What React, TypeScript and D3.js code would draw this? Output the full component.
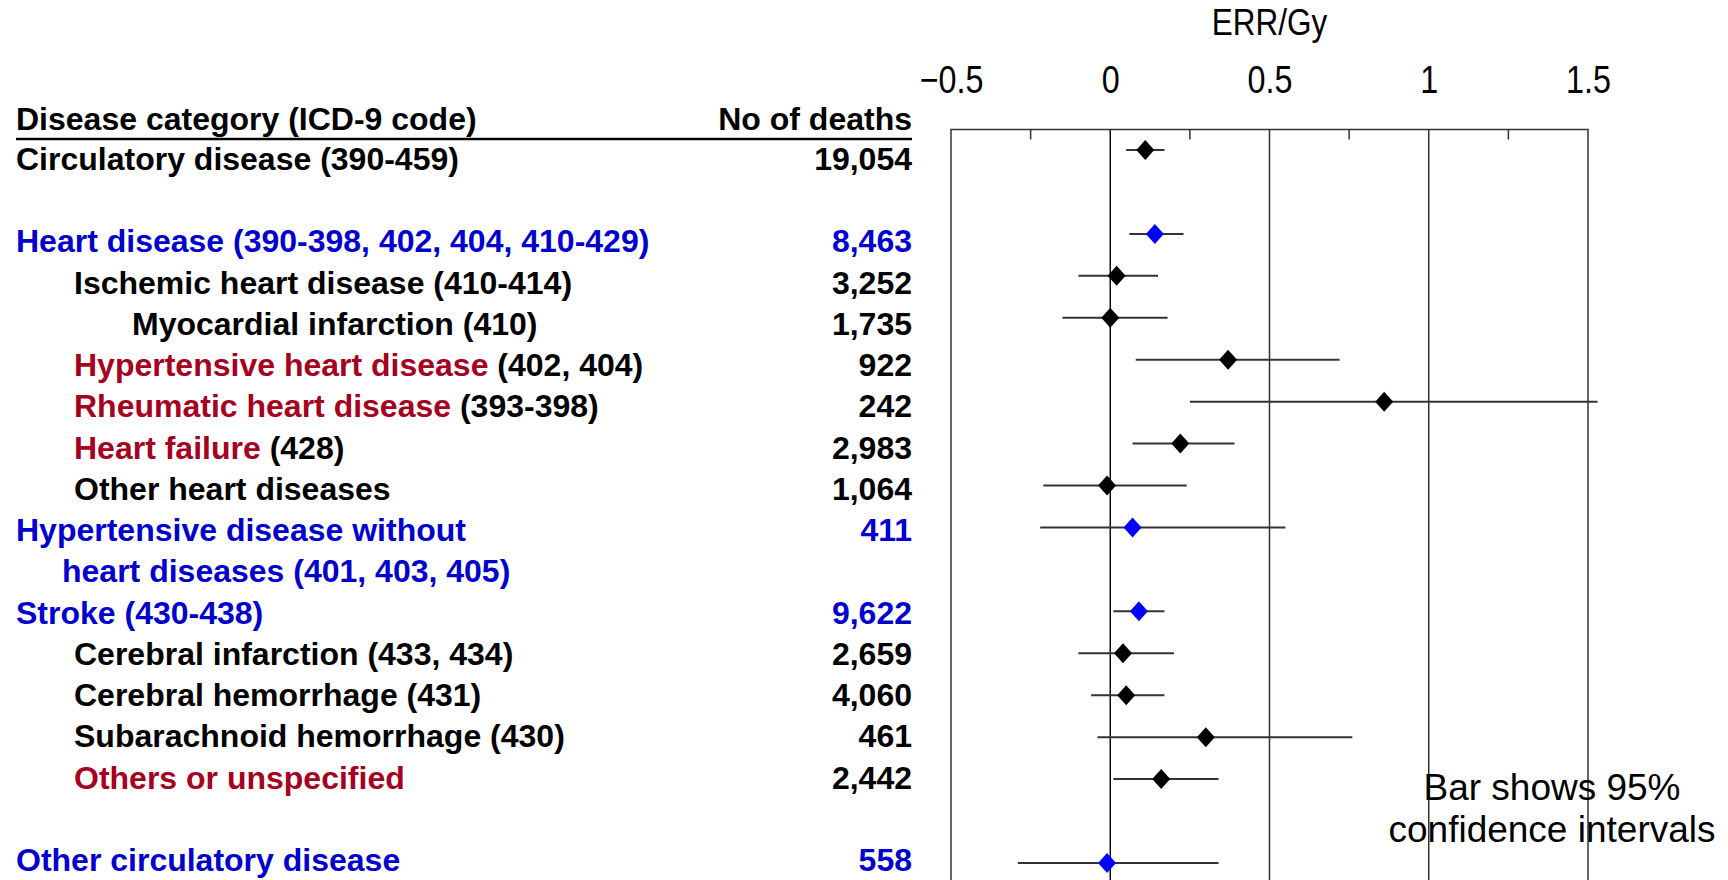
import { useEffect, useRef } from "react";
import * as d3 from "d3";

// rows of the table, top to bottom
const categories = [
  "Circulatory disease",
  "Heart disease",
  "Ischemic heart disease",
  "Myocardial infarction",
  "Hypertensive heart disease",
  "Rheumatic heart disease",
  "Heart failure",
  "Other heart diseases",
  "Hypertensive disease without\nheart diseases",
  "Stroke",
  "Cerebral infarction",
  "Cerebral hemorrhage",
  "Subarachnoid hemorrhage",
  "Others or unspecified",
  "Other circulatory disease",
];
const icdCodes = [
  "(390-459)",
  "(390-398, 402, 404, 410-429)",
  "(410-414)",
  "(410)",
  "(402, 404)",
  "(393-398)",
  "(428)",
  "",
  "(401, 403, 405)",
  "(430-438)",
  "(433, 434)",
  "(431)",
  "(430)",
  "",
  "",
];
// total / group / sub-category
const rowKind = ["total", "group", "sub", "sub", "sub", "sub", "sub", "sub", "group", "group", "sub", "sub", "sub", "sub", "group"];
const depth = [0, 0, 1, 2, 1, 1, 1, 1, 0, 0, 1, 1, 1, 1, 0];
const flagged = [false, false, false, false, true, true, true, false, false, false, false, false, false, true, false];
const deaths = [19054, 8463, 3252, 1735, 922, 242, 2983, 1064, 411, 9622, 2659, 4060, 461, 2442, 558];
const errPerGy = [0.11, 0.14, 0.02, 0.0, 0.37, 0.86, 0.22, -0.01, 0.07, 0.09, 0.04, 0.05, 0.3, 0.16, -0.01];
const ciLow = [0.05, 0.06, -0.1, -0.15, 0.08, 0.25, 0.07, -0.21, -0.22, 0.01, -0.1, -0.06, -0.04, 0.01, -0.29];
const ciHigh = [0.17, 0.23, 0.15, 0.18, 0.72, 1.53, 0.39, 0.24, 0.55, 0.17, 0.2, 0.17, 0.76, 0.34, 0.34];

// row order, blank entries are spacer rows
const rowOrder = [
  "Circulatory disease", "gap1",
  "Heart disease", "Ischemic heart disease", "Myocardial infarction",
  "Hypertensive heart disease", "Rheumatic heart disease", "Heart failure",
  "Other heart diseases", "Hypertensive disease without\nheart diseases", "wrap1",
  "Stroke", "Cerebral infarction", "Cerebral hemorrhage", "Subarachnoid hemorrhage",
  "Others or unspecified", "gap2", "Other circulatory disease",
];
const xTicks = [-0.5, 0, 0.5, 1, 1.5];
const minorTicks = [-0.25, 0.25, 0.75, 1.25];

const W = 1728;
const H = 880;
const BLUE_TEXT = "#0000CC";
const BLUE_MARK = "#0000FF";
const RED_TEXT = "#A50021";
const FONT = "'Liberation Sans', Arial, Helvetica, sans-serif";

const ForestChart = () => {
  const ref = useRef<SVGSVGElement | null>(null);

  useEffect(() => {
    if (!ref.current) return;
    const svg = d3.select(ref.current);
    svg.selectAll("*").remove();

    const x = d3.scaleLinear().domain([-0.5, 1.5]).range([951, 1588]);
    const textY = d3.scalePoint<string>().domain(rowOrder).range([170, 871]);
    const markY = d3.scalePoint<string>().domain(rowOrder).range([150, 863]);
    const step = textY.step();
    const boxTop = 129.5;
    const indent = [16, 74, 132];
    const numRight = 912;

    // ---- table side
    const table = svg.append("g").attr("font-family", FONT).attr("font-weight", "bold").attr("font-size", 32);

    table.append("text").attr("x", indent[0]).attr("y", 130).text("Disease category (ICD-9 code)");
    table.append("text").attr("x", numRight).attr("y", 130).attr("text-anchor", "end").text("No of deaths");
    table.append("line")
      .attr("x1", indent[0]).attr("x2", numRight)
      .attr("y1", 139).attr("y2", 139)
      .attr("stroke", "#000").attr("stroke-width", 2.5);

    categories.forEach((name, i) => {
      const base = textY(name)!;
      const color = rowKind[i] === "group" ? BLUE_TEXT : "#000";
      const lines = name.split("\n");
      lines.forEach((ln, k) => {
        const isLast = k === lines.length - 1;
        const t = table.append("text")
          .attr("x", k === 0 ? indent[depth[i]] : 62)
          .attr("y", base + k * step)
          .attr("fill", color);
        t.append("tspan")
          .attr("fill", flagged[i] ? RED_TEXT : color)
          .text(ln);
        if (isLast && icdCodes[i]) t.append("tspan").text(" " + icdCodes[i]);
      });
      table.append("text")
        .attr("x", numRight).attr("y", base)
        .attr("text-anchor", "end")
        .attr("fill", color)
        .text(d3.format(",")(deaths[i]));
    });

    // ---- plot side
    const plot = svg.append("g");
    const ink = "#333";

    plot.append("path")
      .attr("d", `M${x(-0.5)},${H}V${boxTop}H${x(1.5)}V${H}`)
      .attr("fill", "none").attr("stroke", ink).attr("stroke-width", 1.5);

    plot.selectAll("line.grid")
      .data([0, 0.5, 1])
      .join("line")
      .attr("class", "grid")
      .attr("x1", d => x(d)).attr("x2", d => x(d))
      .attr("y1", boxTop).attr("y2", H)
      .attr("stroke", d => (d === 0 ? "#111" : ink))
      .attr("stroke-width", 1.5);

    plot.selectAll("line.minor")
      .data(minorTicks)
      .join("line")
      .attr("class", "minor")
      .attr("x1", d => x(d)).attr("x2", d => x(d))
      .attr("y1", boxTop).attr("y2", boxTop + 10)
      .attr("stroke", ink).attr("stroke-width", 1.5);

    // top axis labels, slightly condensed like the original
    const axis = plot.append("g")
      .attr("transform", `translate(0,${boxTop})`)
      .call(d3.axisTop(x).tickValues(xTicks).tickSize(0).tickPadding(37).tickFormat(d3.format("~g")));
    axis.select(".domain").remove();
    axis.selectAll("text")
      .attr("font-family", FONT)
      .attr("font-size", 38)
      .attr("fill", "#000")
      .attr("transform", "scale(0.85,1)");

    plot.append("text")
      .attr("transform", `translate(${x(0.5)},35) scale(0.85,1)`)
      .attr("text-anchor", "middle")
      .attr("font-family", FONT).attr("font-size", 37)
      .text("ERR/Gy");

    // confidence interval bars
    plot.selectAll("line.ci")
      .data(categories)
      .join("line")
      .attr("class", "ci")
      .attr("x1", (_, i) => x(ciLow[i])).attr("x2", (_, i) => x(ciHigh[i]))
      .attr("y1", d => markY(d)!).attr("y2", d => markY(d)!)
      .attr("stroke", ink).attr("stroke-width", 2);

    // point estimates
    plot.selectAll("path.est")
      .data(categories)
      .join("path")
      .attr("class", "est")
      .attr("d", "M0,-10L9,0L0,10L-9,0Z")
      .attr("transform", (d, i) => `translate(${x(errPerGy[i])},${markY(d)})`)
      .attr("fill", (_, i) => (rowKind[i] === "group" ? BLUE_MARK : "#000"));

    // note
    const note = plot.append("text")
      .attr("font-family", FONT).attr("font-size", 37)
      .attr("text-anchor", "middle");
    note.append("tspan").attr("x", 1552).attr("y", 800).text("Bar shows 95%");
    note.append("tspan").attr("x", 1552).attr("y", 842).text("confidence intervals");
  }, []);

  return (
    <svg
      ref={ref}
      width={W}
      height={H}
      style={{ position: "absolute", left: 0, top: 0, display: "block", background: "#fff" }}
    />
  );
};

export default function App() {
  return <ForestChart />;
}
